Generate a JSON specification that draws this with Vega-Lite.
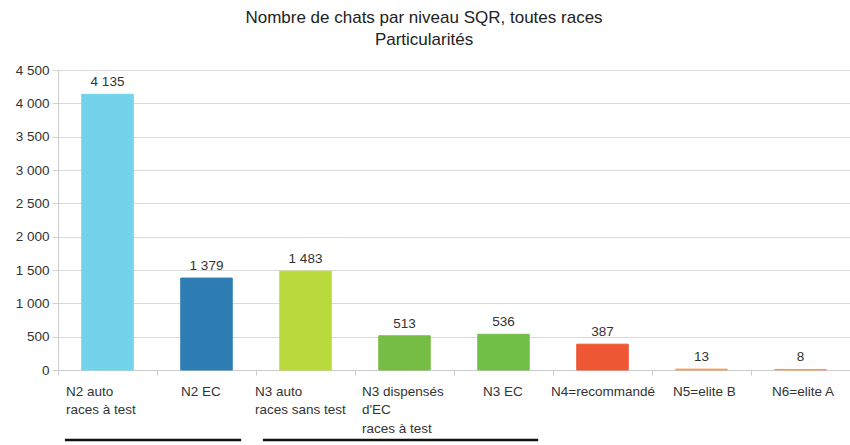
{
  "$schema": "https://vega.github.io/schema/vega-lite/v6.json",
  "autosize": "none",
  "width": 792,
  "height": 300,
  "padding": {"left": 58, "top": 70, "right": 0, "bottom": 75},
  "background": "white",
  "config": {
    "font": "Liberation Sans",
    "view": {"stroke": null}
  },
  "title": {
    "text": ["Nombre de chats par niveau SQR, toutes races", "Particularités"],
    "font": "Liberation Sans",
    "fontSize": 17,
    "fontWeight": "normal",
    "color": "#222222",
    "lineHeight": 22,
    "anchor": "middle",
    "dx": -30,
    "offset": 14
  },
  "datasets": {
    "bars": [
      {"niveau": "N2 auto\nraces à test", "chats": 4135, "couleur": "#72d3ea"},
      {"niveau": "N2 EC", "chats": 1379, "couleur": "#2f7db5"},
      {"niveau": "N3 auto\nraces sans test", "chats": 1483, "couleur": "#bad93c"},
      {"niveau": "N3 dispensés\nd'EC\nraces à test", "chats": 513, "couleur": "#76bd45"},
      {"niveau": "N3 EC", "chats": 536, "couleur": "#72bf48"},
      {"niveau": "N4=recommandé", "chats": 387, "couleur": "#ee5634"},
      {"niveau": "N5=elite B", "chats": 13, "couleur": "#f2995a"},
      {"niveau": "N6=elite A", "chats": 8, "couleur": "#f2995a"}
    ],
    "groupes": [
      {"debut": "N2 auto\nraces à test", "fin": "N2 EC", "bas": -1050},
      {"debut": "N3 auto\nraces sans test", "fin": "N3 EC", "bas": -1050}
    ]
  },
  "resolve": {"axis": {"y": "shared"}},
  "layer": [
    {
      "data": {"name": "bars"},
      "encoding": {
        "x": {
          "field": "niveau", "type": "nominal", "sort": null,
          "scale": {"paddingInner": 0, "paddingOuter": 0},
          "axis": {
            "title": null,
            "labelAngle": 0,
            "labelExpr": "datum.value ? split(datum.value, '\\n') : ''",
            "labelAlign": "left",
            "labelBaseline": "top",
            "labelLineHeight": 18.5,
            "labelFontSize": 13.5,
            "labelColor": "#333333",
            "labelPadding": 9,
            "labelOffset": {
              "condition": [
                {"test": "datum.value == 'N2 auto\\nraces à test'", "value": -42},
                {"test": "datum.value == 'N2 EC'", "value": -26},
                {"test": "datum.value == 'N3 auto\\nraces sans test'", "value": -51},
                {"test": "datum.value == 'N3 dispensés\\nd\\'EC\\nraces à test'", "value": -43},
                {"test": "datum.value == 'N3 EC'", "value": -21},
                {"test": "datum.value == 'N4=recommandé'", "value": -52}
              ],
              "value": -29
            },
            "tickBand": "extent",
            "tickSize": 5,
            "tickColor": "#cccccc",
            "domainColor": "#cccccc",
            "grid": false
          }
        },
        "y": {
          "field": "chats", "type": "quantitative",
          "scale": {"domain": [0, 4500], "nice": false},
          "axis": {
            "title": null,
            "values": [0, 500, 1000, 1500, 2000, 2500, 3000, 3500, 4000, 4500],
            "labelExpr": "replace(format(datum.value, ','), ',', ' ')",
            "labelFontSize": 13.5,
            "labelColor": "#333333",
            "labelPadding": 3,
            "tickSize": 6,
            "tickColor": "#d4d4d4",
            "gridColor": "#d9d9d9",
            "domainColor": "#cccccc"
          }
        }
      },
      "layer": [
        {
          "mark": {"type": "bar", "width": {"band": 0.52}, "strokeWidth": 1},
          "encoding": {
            "color": {"field": "couleur", "type": "nominal", "scale": null, "legend": null},
            "stroke": {"field": "couleur", "type": "nominal", "scale": null, "legend": null}
          }
        },
        {
          "mark": {"type": "text", "baseline": "bottom", "dy": -5, "fontSize": 13.5, "color": "#333333"},
          "encoding": {
            "text": {"value": {"expr": "replace(format(datum.chats, ','), ',', ' ')"}}
          }
        }
      ]
    },
    {
      "data": {"name": "groupes"},
      "mark": {"type": "rule", "color": "#111111", "strokeWidth": 2.5},
      "encoding": {
        "x": {"field": "debut", "type": "nominal", "sort": null, "bandPosition": 0.07},
        "x2": {"field": "fin", "bandPosition": 0.85},
        "y": {
          "field": "bas", "type": "quantitative",
          "axis": {
            "title": null,
            "values": [0, 500, 1000, 1500, 2000, 2500, 3000, 3500, 4000, 4500],
            "labelExpr": "replace(format(datum.value, ','), ',', ' ')",
            "labelFontSize": 13.5,
            "labelColor": "#333333",
            "labelPadding": 3,
            "tickSize": 6,
            "tickColor": "#d4d4d4",
            "gridColor": "#d9d9d9",
            "domainColor": "#cccccc"
          }
        }
      }
    }
  ]
}
